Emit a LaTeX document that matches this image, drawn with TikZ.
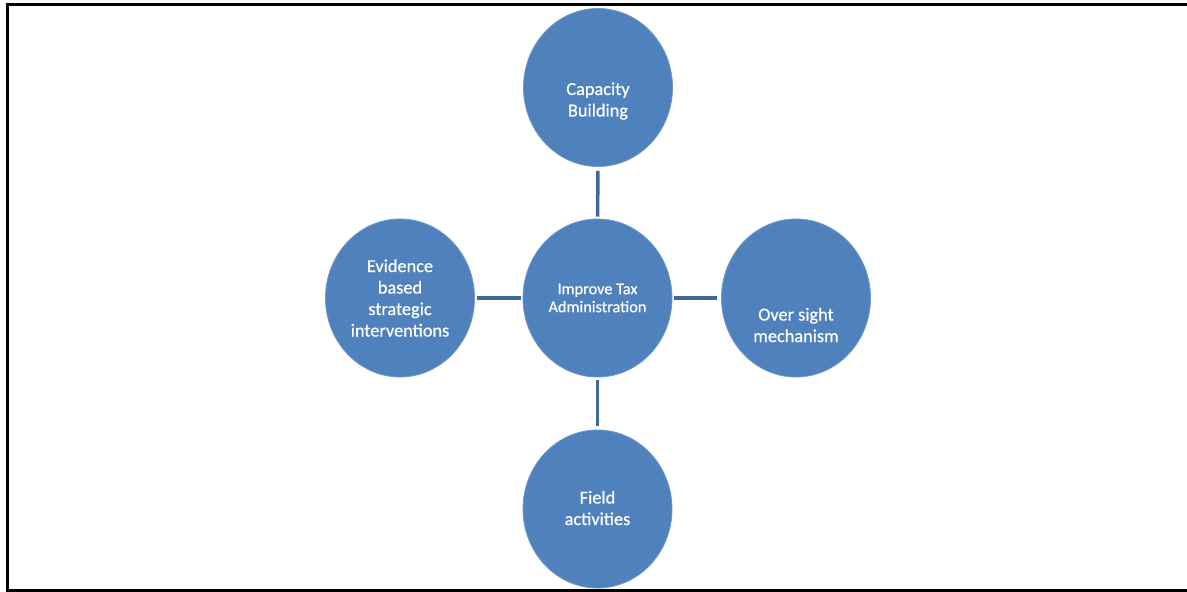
\documentclass[tikz,border=0pt]{standalone}
\usepackage{fontspec}
\setmainfont{Carlito}
\newfontfamily\bubblefont{Carlito}[FakeBold=0.5]
\usetikzlibrary{shapes.geometric}
\definecolor{bubble}{HTML}{4F81BD}
\definecolor{bubbleedge}{HTML}{6E97CA}
\definecolor{linkcol}{HTML}{3F6898}
\tikzset{
  bubblenode/.style={ellipse, fill=bubble, draw=bubbleedge, line width=0.8pt,
    minimum width=149pt, minimum height=158pt, inner sep=0pt},
  bubbletext/.style={text=white, align=center, font=\bubblefont\fontsize{18.3}{21.5}\selectfont, inner sep=0pt},
  centertext/.style={text=white, align=center, font=\bubblefont\fontsize{16.3}{18}\selectfont, inner sep=0pt},
  linkline/.style={draw=linkcol, line width=3.5pt},
}
\begin{document}
\begin{tikzpicture}[x=1pt, y=-1pt]
\useasboundingbox (0,0) rectangle (1187,592);
\fill[white] (0,0) rectangle (1187,592);
\draw[line width=2.5pt] (7.6,4.3) rectangle (1195,590.3);

\node[bubblenode] (center) at (597.5,298) {};
\node[bubblenode] (top) at (598,87.5) {};
\node[bubblenode] (left) at (400,298) {};
\node[bubblenode] (right) at (796,298) {};
\node[bubblenode] (bottom) at (597.5,509) {};

\node[centertext] (tcenter) at (597.5,298) {Improve Tax\\Administration};
\node[bubbletext] (ttop) at (598,101) {Capacity\\Building};
\node[bubbletext] (tleft) at (400,298) {Evidence\\based\\strategic\\interventions};
\node[bubbletext] (tright) at (796,325) {Over sight\\mechanism};
\node[bubbletext] (tbottom) at (597.5,508) {Field\\activities};

\draw[linkline, shorten <=4pt, shorten >=2pt] (top) -- (center);
\draw[linkline, shorten <=2pt, shorten >=2pt] (left) -- (center);
\draw[linkline, shorten <=2pt, shorten >=4pt] (center) -- (right);
\draw[linkline, shorten <=3pt, shorten >=4pt] (center) -- (bottom);
\end{tikzpicture}
\end{document}
